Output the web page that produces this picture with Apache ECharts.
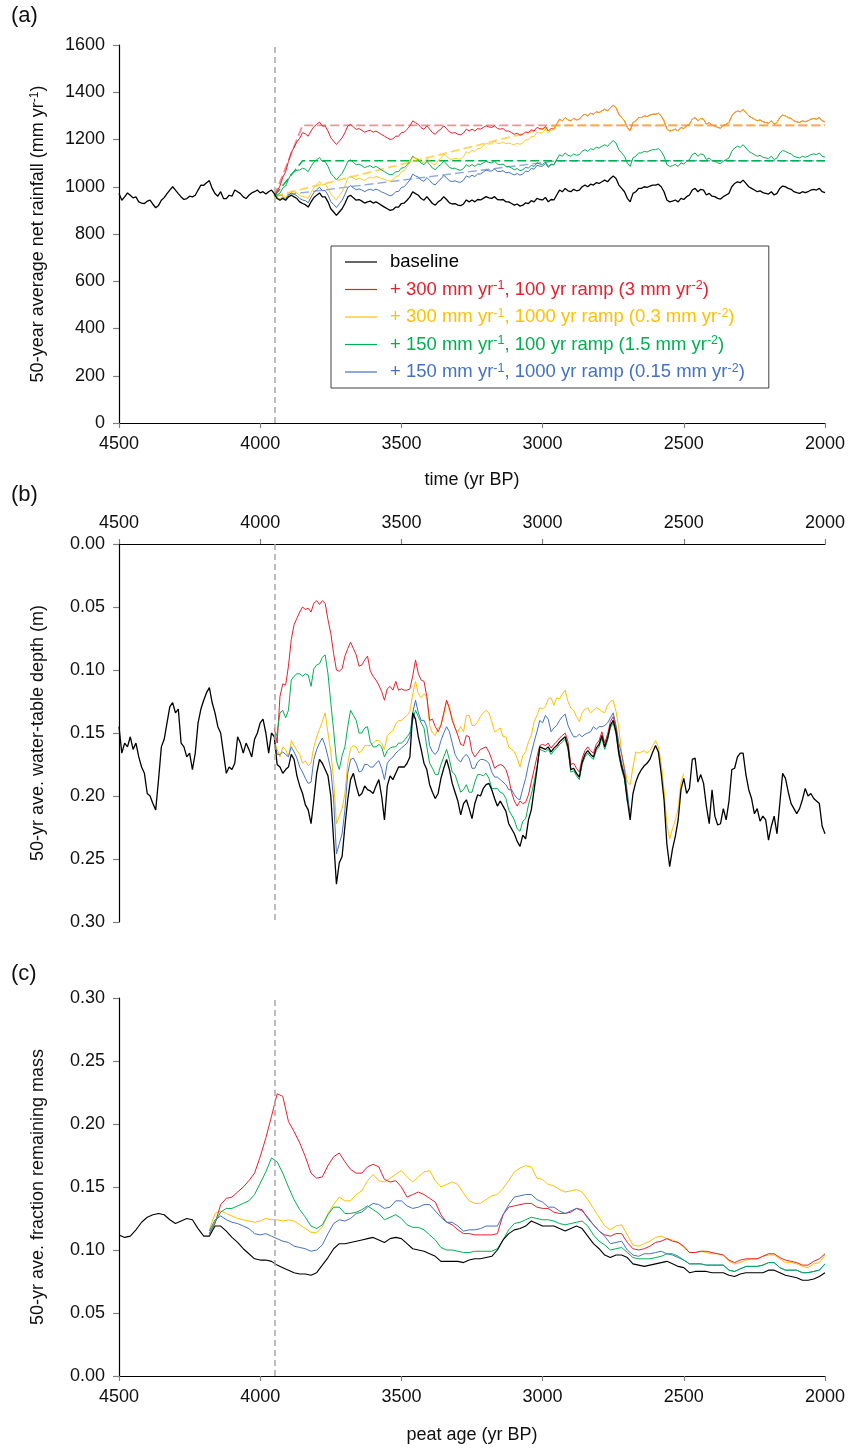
<!DOCTYPE html>
<html><head><meta charset="utf-8">
<script src="https://cdn.jsdelivr.net/npm/echarts@6.0.0/dist/echarts.min.js"></script>
<style>html,body{margin:0;padding:0;background:#fff}#chart{width:853px;height:1448px}</style>
</head><body><div id="chart"></div>
<script>
// ---------- DATA ----------
// Panel (a): 50-year average net rainfall (mm/yr), 10-yr steps
const aBaseStart = 4500;
const aBase = [
971,943,957,974,964,953,957,936,931,929,
939,943,926,911,921,943,954,971,986,1000,
986,971,957,946,950,960,957,964,986,1007,
1006,1017,1026,993,971,960,979,950,950,964,
960,986,979,971,957,950,964,974,979,986,
974,979,969,979,986,971,950,943,950,943,
957,964,957,950,936,929,924,914,936,954,
964,974,957,957,936,907,893,879,893,907,
929,957,964,953,943,946,939,931,936,939,
931,936,929,921,914,907,900,903,914,914,
929,931,943,957,979,971,964,950,943,958,
944,929,922,936,944,958,946,932,927,929,
922,920,927,944,936,944,936,946,944,951,
958,953,951,958,946,944,946,936,936,929,
922,927,918,922,932,929,941,936,951,946,
944,955,936,946,944,965,986,979,993,983,
979,989,983,986,1000,1007,1000,1011,1007,1017,
1014,1021,1028,1021,1035,1045,1035,1007,993,979,
951,936,972,979,993,993,1000,997,1003,1007,
1007,1011,1000,979,944,936,939,944,936,951,
946,958,965,986,993,979,989,986,965,972,
960,958,951,948,958,965,972,1000,1014,1021,
1017,1028,1014,1000,993,986,979,983,975,972,
969,979,965,972,993,1003,1000,993,989,979,
975,972,979,975,979,986,989,986,993,979,
975];
const aRampStart = 3950;
const aRed = [
971,980,1003,1040,1063,1107,1144,1167,1190,1206,
1229,1224,1214,1236,1254,1264,1274,1257,1257,1236,
1207,1193,1179,1193,1207,1229,1257,1264,1253,1243,
1246,1239,1231,1236,1239,1231,1236,1229,1221,1214,
1207,1200,1203,1214,1214,1229,1231,1243,1257,1279,
1271,1264,1250,1243,1258,1244,1229,1222,1236,1244,
1258,1246,1232,1227,1229,1222,1220,1227,1244,1236,
1244,1236,1246,1244,1251,1258,1253,1251,1258,1246,
1244,1246,1236,1236,1229,1222,1227,1218,1222,1232,
1229,1241,1236,1251,1246,1244,1255,1236,1246,1244,
1265,1286,1279,1293,1283,1279,1289,1283,1286,1300,
1307,1300,1311,1307,1317,1314,1321,1328,1321,1335,
1345,1335,1307,1293,1279,1251,1236,1272,1279,1293,
1293,1300,1297,1303,1307,1307,1311,1300,1279,1244,
1236,1239,1244,1236,1251,1246,1258,1265,1286,1293,
1279,1289,1286,1265,1272,1260,1258,1251,1248,1258,
1265,1272,1300,1314,1321,1317,1328,1314,1300,1293,
1286,1279,1283,1275,1272,1269,1279,1265,1272,1293,
1303,1300,1293,1289,1279,1275,1272,1279,1275,1279,
1286,1289,1286,1293,1279,1275];
const aYellow = [
971,953,949,959,955,972,982,978,974,963,
959,957,950,975,996,1009,1022,1008,1011,993,
967,956,945,962,979,1004,1035,1045,1037,1030,
1036,1032,1027,1035,1041,1036,1044,1040,1035,1031,
1027,1023,1029,1043,1046,1064,1069,1084,1101,1126,
1121,1117,1106,1102,1120,1109,1097,1093,1110,1121,
1138,1129,1118,1116,1121,1117,1118,1128,1148,1143,
1154,1149,1162,1163,1173,1183,1181,1182,1192,1183,
1184,1189,1182,1185,1181,1177,1185,1179,1186,1199,
1199,1214,1212,1230,1228,1229,1243,1227,1240,1241,
1265,1286,1279,1293,1283,1279,1289,1283,1286,1300,
1307,1300,1311,1307,1317,1314,1321,1328,1321,1335,
1345,1335,1307,1293,1279,1251,1236,1272,1279,1293,
1293,1300,1297,1303,1307,1307,1311,1300,1279,1244,
1236,1239,1244,1236,1251,1246,1258,1265,1286,1293,
1279,1289,1286,1265,1272,1260,1258,1251,1248,1258,
1265,1272,1300,1314,1321,1317,1328,1314,1300,1293,
1286,1279,1283,1275,1272,1269,1279,1265,1272,1293,
1303,1300,1293,1289,1279,1275,1272,1279,1275,1279,
1286,1289,1286,1293,1279,1275];
const aGreen = [
971,965,973,995,1003,1032,1054,1062,1070,1071,
1079,1074,1064,1086,1104,1114,1124,1107,1107,1086,
1057,1043,1029,1043,1057,1079,1107,1114,1103,1093,
1096,1089,1081,1086,1089,1081,1086,1079,1071,1064,
1057,1050,1053,1064,1064,1079,1081,1093,1107,1129,
1121,1114,1100,1093,1108,1094,1079,1072,1086,1094,
1108,1096,1082,1077,1079,1072,1070,1077,1094,1086,
1094,1086,1096,1094,1101,1108,1103,1101,1108,1096,
1094,1096,1086,1086,1079,1072,1077,1068,1072,1082,
1079,1091,1086,1101,1096,1094,1105,1086,1096,1094,
1115,1136,1129,1143,1133,1129,1139,1133,1136,1150,
1157,1150,1161,1157,1167,1164,1171,1178,1171,1185,
1195,1185,1157,1143,1129,1101,1086,1122,1129,1143,
1143,1150,1147,1153,1157,1157,1161,1150,1129,1094,
1086,1089,1094,1086,1101,1096,1108,1115,1136,1143,
1129,1139,1136,1115,1122,1110,1108,1101,1098,1108,
1115,1122,1150,1164,1171,1167,1178,1164,1150,1143,
1136,1129,1133,1125,1122,1119,1129,1115,1122,1143,
1153,1150,1143,1139,1129,1125,1122,1129,1125,1129,
1136,1139,1136,1143,1129,1125];
const aBlue = [
971,952,946,955,949,965,973,968,962,950,
944,941,932,956,975,987,998,983,984,965,
937,925,912,928,943,967,996,1005,995,987,
991,986,979,986,990,984,990,985,978,973,
967,962,966,979,980,997,1000,1014,1029,1053,
1046,1041,1028,1023,1039,1027,1013,1008,1023,1033,
1048,1038,1025,1022,1025,1020,1019,1028,1046,1040,
1049,1043,1054,1054,1062,1071,1067,1067,1075,1065,
1064,1068,1059,1061,1055,1050,1056,1049,1054,1066,
1064,1078,1074,1091,1087,1087,1099,1082,1093,1093,
1115];
// imposed rainfall ramps (dashed)
const fRedX = [3950, 3850, 2000], fRedY = [960, 1260, 1260];
const fYelX = [3950, 2950, 2000], fYelY = [960, 1260, 1260];
const fGrnX = [3950, 3850, 2000], fGrnY = [960, 1110, 1110];
const fBluX = [3950, 2950, 2000], fBluY = [960, 1110, 1110];

// Panel (b): 50-yr ave. water-table depth (m), 10-yr steps
const bBase = [
0.145,0.166,0.158,0.161,0.153,0.163,0.158,0.169,0.177,0.182,
0.198,0.200,0.206,0.211,0.187,0.161,0.155,0.142,0.129,0.126,
0.134,0.131,0.158,0.161,0.169,0.166,0.179,0.166,0.142,0.131,
0.124,0.118,0.114,0.126,0.134,0.145,0.150,0.166,0.182,0.177,
0.179,0.174,0.153,0.158,0.166,0.158,0.163,0.169,0.155,0.150,
0.142,0.139,0.150,0.166,0.150,0.153,0.175,0.177,0.182,0.179,
0.177,0.167,0.171,0.184,0.192,0.198,0.207,0.211,0.222,0.203,
0.182,0.171,0.174,0.179,0.184,0.200,0.235,0.270,0.253,0.248,
0.224,0.203,0.187,0.182,0.192,0.200,0.198,0.192,0.195,0.196,
0.198,0.192,0.187,0.200,0.219,0.192,0.184,0.187,0.182,0.177,
0.177,0.177,0.174,0.169,0.134,0.139,0.153,0.163,0.174,0.179,
0.191,0.197,0.202,0.198,0.186,0.178,0.171,0.179,0.190,0.197,
0.204,0.215,0.206,0.203,0.210,0.218,0.206,0.199,0.200,0.194,
0.191,0.190,0.195,0.202,0.208,0.204,0.208,0.212,0.222,0.226,
0.230,0.236,0.240,0.231,0.234,0.219,0.211,0.195,0.179,0.161,
0.162,0.163,0.161,0.165,0.162,0.160,0.157,0.155,0.153,0.161,
0.179,0.178,0.182,0.185,0.173,0.167,0.164,0.167,0.169,0.162,
0.159,0.152,0.161,0.154,0.144,0.140,0.149,0.166,0.177,0.185,
0.203,0.219,0.198,0.189,0.183,0.179,0.176,0.174,0.171,0.165,
0.160,0.165,0.182,0.203,0.238,0.256,0.242,0.232,0.219,0.195,
0.186,0.198,0.194,0.171,0.170,0.189,0.183,0.190,0.208,0.222,
0.195,0.216,0.223,0.222,0.210,0.219,0.204,0.179,0.178,0.169,
0.166,0.166,0.183,0.195,0.202,0.214,0.210,0.220,0.216,0.219,
0.235,0.224,0.216,0.230,0.206,0.182,0.186,0.197,0.206,0.210,
0.214,0.210,0.203,0.194,0.200,0.198,0.202,0.204,0.206,0.224,
0.230];
const bRed = [
0.146,0.158,0.121,0.111,0.112,0.097,0.076,0.064,0.059,0.054,
0.050,0.052,0.051,0.054,0.047,0.045,0.048,0.045,0.047,0.060,
0.071,0.087,0.100,0.101,0.099,0.089,0.083,0.078,0.083,0.088,
0.097,0.096,0.092,0.089,0.101,0.105,0.108,0.112,0.117,0.124,
0.115,0.113,0.116,0.109,0.116,0.115,0.116,0.116,0.115,0.105,
0.092,0.103,0.108,0.109,0.121,0.140,0.139,0.145,0.149,0.144,
0.134,0.124,0.130,0.140,0.146,0.152,0.159,0.160,0.152,0.153,
0.165,0.169,0.166,0.163,0.162,0.161,0.165,0.171,0.178,0.176,
0.175,0.176,0.179,0.186,0.197,0.204,0.208,0.204,0.206,0.205,
0.199,0.189,0.179,0.169,0.160,0.159,0.160,0.158,0.162,0.159,
0.157,0.154,0.152,0.150,0.157,0.175,0.174,0.178,0.181,0.170,
0.164,0.161,0.164,0.166,0.159,0.156,0.149,0.158,0.151,0.141,
0.137,0.146,0.163,0.174,0.183,0.201];
const bYellow = [
0.156,0.163,0.169,0.161,0.163,0.169,0.156,0.160,0.164,0.167,
0.174,0.172,0.176,0.174,0.161,0.153,0.147,0.141,0.134,0.150,
0.165,0.187,0.222,0.216,0.210,0.198,0.174,0.162,0.160,0.161,
0.166,0.164,0.160,0.160,0.160,0.158,0.156,0.156,0.158,0.163,
0.152,0.150,0.148,0.143,0.140,0.140,0.138,0.136,0.133,0.119,
0.109,0.119,0.122,0.119,0.121,0.144,0.150,0.152,0.146,0.144,
0.136,0.124,0.132,0.138,0.146,0.149,0.145,0.149,0.136,0.136,
0.144,0.144,0.141,0.137,0.134,0.132,0.134,0.141,0.149,0.148,
0.146,0.153,0.153,0.161,0.163,0.165,0.170,0.177,0.168,0.165,
0.157,0.152,0.141,0.136,0.130,0.131,0.129,0.123,0.122,0.128,
0.122,0.123,0.119,0.116,0.125,0.130,0.132,0.137,0.141,0.134,
0.131,0.130,0.134,0.132,0.130,0.131,0.133,0.134,0.128,0.125,
0.124,0.133,0.146,0.166,0.177,0.189,0.191,0.177,0.165,0.166,
0.165,0.164,0.166,0.164,0.160,0.156,0.161,0.174,0.195,0.222,
0.234,0.226,0.219,0.210,0.189,0.182];
const bGreen = [
0.156,0.150,0.134,0.132,0.138,0.132,0.108,0.105,0.103,0.103,
0.105,0.103,0.104,0.113,0.099,0.096,0.095,0.090,0.088,0.103,
0.126,0.148,0.172,0.179,0.168,0.161,0.145,0.132,0.136,0.140,
0.150,0.150,0.146,0.145,0.157,0.161,0.161,0.159,0.161,0.169,
0.164,0.162,0.161,0.161,0.158,0.158,0.156,0.153,0.150,0.140,
0.132,0.137,0.142,0.146,0.161,0.174,0.178,0.183,0.183,0.175,
0.169,0.163,0.171,0.181,0.183,0.190,0.197,0.195,0.191,0.197,
0.197,0.189,0.183,0.183,0.184,0.182,0.186,0.194,0.194,0.194,
0.197,0.198,0.202,0.211,0.215,0.219,0.226,0.228,0.220,0.218,
0.207,0.199,0.189,0.177,0.163,0.164,0.165,0.163,0.167,0.164,
0.162,0.159,0.157,0.155,0.163,0.181,0.180,0.184,0.187,0.175,
0.169,0.166,0.169,0.171,0.164,0.161,0.154,0.163,0.156,0.146,
0.142,0.151,0.168,0.179,0.187,0.205];
const bBlue = [
0.158,0.167,0.167,0.165,0.167,0.169,0.161,0.165,0.170,0.177,
0.181,0.186,0.190,0.189,0.171,0.163,0.158,0.154,0.160,0.169,
0.179,0.203,0.246,0.238,0.230,0.211,0.182,0.171,0.170,0.174,
0.181,0.180,0.175,0.175,0.177,0.177,0.174,0.172,0.178,0.187,
0.174,0.171,0.169,0.166,0.164,0.162,0.160,0.158,0.153,0.134,
0.124,0.134,0.140,0.140,0.145,0.160,0.165,0.167,0.164,0.156,
0.150,0.145,0.149,0.158,0.167,0.171,0.173,0.169,0.167,0.170,
0.178,0.178,0.173,0.171,0.171,0.172,0.174,0.181,0.185,0.185,
0.187,0.189,0.191,0.195,0.195,0.199,0.202,0.203,0.194,0.186,
0.175,0.166,0.157,0.149,0.140,0.142,0.136,0.139,0.149,0.146,
0.144,0.140,0.137,0.135,0.144,0.149,0.153,0.153,0.151,0.153,
0.151,0.150,0.149,0.145,0.147,0.145,0.145,0.144,0.142,0.138,
0.134,0.144,0.158,0.167,0.179,0.197,0.215];

// Panel (c): 50-yr ave. fraction remaining mass, 20-yr steps
const cBase = [
0.112,0.110,0.111,0.116,0.122,0.126,0.128,0.129,0.128,0.124,
0.121,0.123,0.125,0.124,0.117,0.111,0.111,0.119,0.119,0.115,
0.110,0.106,0.101,0.097,0.093,0.092,0.092,0.091,0.088,0.086,
0.084,0.082,0.081,0.081,0.080,0.082,0.088,0.094,0.101,0.105,
0.105,0.106,0.107,0.108,0.109,0.110,0.108,0.106,0.109,0.110,
0.109,0.105,0.101,0.100,0.099,0.097,0.095,0.091,0.091,0.091,
0.091,0.090,0.092,0.093,0.093,0.094,0.095,0.100,0.108,0.113,
0.116,0.117,0.119,0.123,0.121,0.119,0.119,0.119,0.117,0.115,
0.117,0.119,0.117,0.111,0.105,0.101,0.096,0.094,0.096,0.096,
0.094,0.089,0.088,0.087,0.088,0.089,0.090,0.091,0.089,0.087,
0.086,0.082,0.083,0.083,0.083,0.082,0.082,0.082,0.080,0.079,
0.081,0.082,0.082,0.082,0.082,0.084,0.084,0.082,0.080,0.079,
0.078,0.076,0.076,0.077,0.079,0.082];
const cRampStart = 4180;
const cRed = [
0.113,
0.121,0.136,0.141,0.142,0.146,0.150,0.155,0.161,0.174,0.189,
0.206,0.224,0.222,0.202,0.194,0.185,0.174,0.161,0.157,0.158,
0.167,0.174,0.177,0.170,0.164,0.161,0.161,0.166,0.168,0.166,
0.156,0.154,0.155,0.150,0.142,0.144,0.146,0.144,0.141,0.138,
0.128,0.122,0.120,0.116,0.113,0.113,0.112,0.112,0.112,0.112,
0.113,0.128,0.134,0.135,0.136,0.137,0.137,0.134,0.133,0.133,
0.130,0.129,0.129,0.130,0.133,0.132,0.125,0.120,0.115,0.112,
0.111,0.113,0.113,0.106,0.101,0.100,0.101,0.103,0.106,0.107,
0.109,0.107,0.106,0.103,0.098,0.098,0.099,0.099,0.098,0.097,
0.096,0.092,0.090,0.092,0.093,0.093,0.093,0.095,0.097,0.097,
0.094,0.092,0.091,0.090,0.088,0.088,0.091,0.093,0.097];
const cYellow = [
0.116,
0.129,0.131,0.129,0.127,0.125,0.124,0.123,0.122,0.123,0.125,
0.124,0.124,0.123,0.124,0.123,0.120,0.117,0.114,0.114,0.118,
0.129,0.136,0.142,0.139,0.139,0.144,0.147,0.155,0.160,0.155,
0.154,0.157,0.160,0.163,0.158,0.154,0.158,0.162,0.163,0.155,
0.150,0.152,0.154,0.152,0.145,0.139,0.137,0.137,0.140,0.143,
0.144,0.149,0.155,0.162,0.165,0.167,0.166,0.157,0.156,0.152,
0.151,0.148,0.146,0.147,0.148,0.146,0.140,0.133,0.126,0.119,
0.116,0.119,0.120,0.112,0.104,0.103,0.105,0.107,0.110,0.111,
0.109,0.108,0.106,0.102,0.098,0.098,0.099,0.098,0.097,0.097,
0.096,0.091,0.089,0.090,0.092,0.093,0.093,0.095,0.096,0.096,
0.093,0.090,0.090,0.089,0.087,0.086,0.089,0.090,0.096];
const cGreen = [
0.113,
0.122,0.130,0.133,0.133,0.135,0.137,0.139,0.144,0.153,0.162,
0.173,0.170,0.161,0.150,0.140,0.132,0.126,0.119,0.117,0.120,
0.128,0.134,0.134,0.129,0.129,0.130,0.132,0.135,0.132,0.129,
0.124,0.126,0.128,0.125,0.120,0.118,0.118,0.116,0.112,0.108,
0.102,0.100,0.100,0.099,0.098,0.098,0.099,0.099,0.099,0.099,
0.101,0.108,0.116,0.121,0.122,0.124,0.126,0.125,0.124,0.124,
0.123,0.121,0.120,0.121,0.122,0.123,0.119,0.112,0.107,0.104,
0.100,0.101,0.102,0.098,0.094,0.093,0.093,0.093,0.094,0.095,
0.097,0.097,0.095,0.092,0.089,0.089,0.089,0.088,0.088,0.088,
0.088,0.084,0.083,0.085,0.087,0.087,0.087,0.088,0.090,0.090,
0.086,0.084,0.084,0.084,0.082,0.082,0.083,0.084,0.089];
const cBlue = [
0.115,
0.124,0.127,0.124,0.122,0.121,0.119,0.117,0.113,0.112,0.113,
0.111,0.109,0.107,0.106,0.103,0.102,0.101,0.099,0.100,0.104,
0.113,0.121,0.124,0.123,0.125,0.129,0.130,0.134,0.137,0.136,
0.133,0.134,0.139,0.139,0.135,0.133,0.134,0.136,0.136,0.131,
0.126,0.122,0.122,0.119,0.115,0.116,0.116,0.117,0.119,0.119,
0.119,0.128,0.136,0.142,0.143,0.144,0.144,0.140,0.138,0.134,
0.134,0.131,0.129,0.131,0.133,0.131,0.126,0.120,0.115,0.111,
0.105,0.106,0.107,0.100,0.096,0.095,0.097,0.097,0.098,0.099,
0.097,0.096,0.094,0.092,0.089,0.089,0.089,0.088,0.088,0.088,
0.088,0.084,0.083,0.085,0.087,0.087,0.087,0.088,0.090,0.090,
0.086,0.084,0.084,0.084,0.082,0.082,0.083,0.084,0.089];

const onsetYear = 3950;
const legendNames = ['baseline','r300_100','r300_1000','r150_100','r150_1000'];
const legendLabels = {
  baseline: 'baseline',
  r300_100: '+ 300 mm yr{s|-1}, 100 yr ramp (3 mm yr{s|-2})',
  r300_1000: '+ 300 mm yr{s|-1}, 1000 yr ramp (0.3 mm yr{s|-2})',
  r150_100: '+ 150 mm yr{s|-1}, 100 yr ramp (1.5 mm yr{s|-2})',
  r150_1000: '+ 150 mm yr{s|-1}, 1000 yr ramp (0.15 mm yr{s|-2})'
};

// ---------- CHART ----------
const FONT = "'Liberation Sans', Arial, sans-serif";
const COL = {baseline:'#000000', r300_100:'#E8202E', r300_1000:'#FFC000', r150_100:'#00B050', r150_1000:'#4472C4'};
const pairs = (start, step, arr) => arr.map((v, i) => [start - step * i, v]);
const zip = (xs, ys) => xs.map((x, i) => [x, ys[i]]);

function ln(name, data, idx, opts) {
  opts = opts || {};
  return {
    type: 'line', name: name, xAxisIndex: idx, yAxisIndex: idx, data: data,
    symbol: 'none', showSymbol: false, silent: true, animation: false,
    lineStyle: Object.assign({color: COL[name] || opts.color, width: 1}, opts.lineStyle || {}),
    itemStyle: {color: COL[name] || opts.color},
    z: opts.z || 2,
    markLine: opts.markLine
  };
}
const vline = {
  silent: true, symbol: ['none', 'none'], label: {show: false},
  lineStyle: {color: '#A8A8A8', type: [6, 4], width: 1.5},
  data: [{xAxis: onsetYear}]
};
function xAx(idx, pos, name, gap) {
  return {
    type: 'value', gridIndex: idx, min: 2000, max: 4500, interval: 500, inverse: true,
    position: pos,
    axisLine: {show: true, onZero: false, lineStyle: {color: '#000', width: 1.2}},
    axisTick: {show: true, length: 5, lineStyle: {color: '#808080', width: 1.2}},
    axisLabel: {fontSize: 18, color: '#111', fontFamily: FONT, margin: 12, formatter: v => String(v)},
    splitLine: {show: false},
    name: name, nameLocation: 'middle', nameGap: gap,
    nameTextStyle: {fontSize: 18, color: '#111', fontFamily: FONT}
  };
}
function yAx(idx, max, interval, inverse, name, fmt) {
  return {
    type: 'value', gridIndex: idx, min: 0, max: max, interval: interval, inverse: inverse,
    axisLine: {show: true, onZero: false, lineStyle: {color: '#000', width: 1.2}},
    axisTick: {show: true, length: 6, lineStyle: {color: '#808080', width: 1.2}},
    axisLabel: {fontSize: 18, color: '#111', fontFamily: FONT, margin: 14, formatter: fmt},
    splitLine: {show: false},
    name: name, nameLocation: 'middle', nameGap: 72,
    nameTextStyle: {fontSize: 18, color: '#111', fontFamily: FONT,
      rich: {s: {fontSize: 12, verticalAlign: 'top', fontFamily: FONT, color: '#111'}}}
  };
}
const f2 = v => v.toFixed(2);

const series = [
  // panel (a) - imposed ramps (dashed)
  ln('f_blue', zip(fBluX, fBluY), 0, {color: COL.r150_1000, lineStyle: {type: [9, 4], width: 1.4, opacity: 0.6}}),
  ln('f_green', zip(fGrnX, fGrnY), 0, {color: COL.r150_100, lineStyle: {type: [9, 4], width: 1.4}}),
  ln('f_red', zip(fRedX, fRedY), 0, {color: COL.r300_100, lineStyle: {type: [9, 4], width: 1.8, opacity: 0.5}}),
  ln('f_yellow', zip(fYelX, fYelY), 0, {color: COL.r300_1000, lineStyle: {type: [9, 4], width: 1.8, opacity: 0.65}}),
  // panel (a) - rainfall series
  ln('r150_1000', pairs(aRampStart, 10, aBlue), 0),
  ln('r150_100', pairs(aRampStart, 10, aGreen), 0),
  ln('r300_100', pairs(aRampStart, 10, aRed), 0),
  ln('r300_1000', pairs(aRampStart, 10, aYellow), 0, {lineStyle: {opacity: 0.85}}),
  ln('baseline', pairs(aBaseStart, 10, aBase), 0, {lineStyle: {width: 1.3}, markLine: vline, z: 3}),
  // panel (b)
  ln('r300_1000', pairs(aRampStart, 10, bYellow), 1),
  ln('r150_1000', pairs(aRampStart, 10, bBlue), 1),
  ln('r300_100', pairs(aRampStart, 10, bRed), 1),
  ln('r150_100', pairs(aRampStart, 10, bGreen), 1),
  ln('baseline', pairs(aBaseStart, 10, bBase), 1, {lineStyle: {width: 1.3}, markLine: vline, z: 3}),
  // panel (c)
  ln('r300_1000', pairs(cRampStart, 20, cYellow), 2),
  ln('r300_100', pairs(cRampStart, 20, cRed), 2),
  ln('r150_1000', pairs(cRampStart, 20, cBlue), 2),
  ln('r150_100', pairs(cRampStart, 20, cGreen), 2),
  ln('baseline', pairs(aBaseStart, 20, cBase), 2, {lineStyle: {width: 1.1}, markLine: vline, z: 3})
];

const chart = echarts.init(document.getElementById('chart'), null, {renderer: 'canvas'});
chart.setOption({
  animation: false,
  backgroundColor: '#ffffff',
  textStyle: {fontFamily: FONT},
  grid: [
    {left: 119, top: 45, width: 706, height: 378},
    {left: 119, top: 544, width: 706, height: 378},
    {left: 119, top: 998, width: 706, height: 378}
  ],
  xAxis: [
    xAx(0, 'bottom', 'time (yr BP)', 48),
    xAx(1, 'top', '', 30),
    xAx(2, 'bottom', 'peat age (yr BP)', 50)
  ],
  yAxis: [
    yAx(0, 1600, 200, false, '50-year average net rainfall (mm yr{s|-1})', v => String(v)),
    yAx(1, 0.30, 0.05, true, '50-yr ave. water-table depth (m)', f2),
    yAx(2, 0.30, 0.05, false, '50-yr ave. fraction remaining mass', f2)
  ],
  legend: {
    show: true, orient: 'vertical', left: 331, top: 246,
    padding: [6, 24, 6, 14],
    backgroundColor: '#ffffff', borderColor: '#404040', borderWidth: 1,
    itemWidth: 32, itemHeight: 14, itemGap: 7.5,
    icon: 'path://M0,0 L32,0 L32,1.2 L0,1.2 Z',
    symbolKeepAspect: true,
    selectedMode: false,
    data: legendNames.map(n => ({name: n, textStyle: {color: COL[n]}})),
    formatter: n => legendLabels[n],
    textStyle: {fontSize: 18.5, fontFamily: FONT, lineHeight: 20, padding: [0, 0, 0, 8],
      rich: {s: {fontSize: 12.5, verticalAlign: 'top', fontFamily: FONT}}}
  },
  graphic: [
    {type: 'text', left: 11, top: 5, style: {text: '(a)', fontSize: 22, fill: '#111', fontFamily: FONT}},
    {type: 'text', left: 11, top: 484, style: {text: '(b)', fontSize: 22, fill: '#111', fontFamily: FONT}},
    {type: 'text', left: 11, top: 963, style: {text: '(c)', fontSize: 22, fill: '#111', fontFamily: FONT}}
  ],
  series: series
});
</script></body></html>
